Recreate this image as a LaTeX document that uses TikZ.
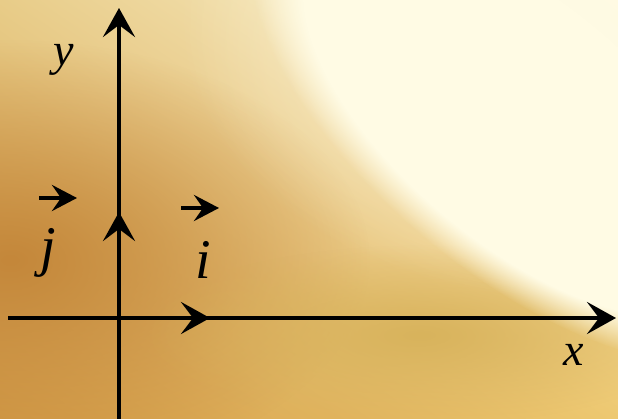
\documentclass[tikz,border=0pt]{standalone}
\usepackage{fontspec}
\setmainfont{Liberation Serif}
\usetikzlibrary{arrows.meta,fadings,shadings}
\tikzfading[name=glow, inner color=transparent!0, outer color=transparent!100]
\definecolor{ulc}{HTML}{E8CC88}
\definecolor{urc}{HTML}{FFF8DC}
\definecolor{llc}{HTML}{D39C48}
\definecolor{lrc}{HTML}{EDC870}
\definecolor{glowc}{HTML}{FFFBE4}
\definecolor{tanc}{HTML}{C4873A}
\definecolor{goldc}{HTML}{D8B35C}
\begin{document}
\begin{tikzpicture}[x=1pt,y=-1pt,
  axis/.style={line width=4pt, -{Stealth[length=29pt,width=32pt,inset=12pt]}},
  vec/.style={line width=4pt, -{Stealth[length=25pt,width=26pt,inset=9pt]}},
  big/.style={font=\fontsize{46}{46}\selectfont\itshape, inner sep=0pt, anchor=base},
  bigger/.style={font=\fontsize{56}{56}\selectfont\itshape, inner sep=0pt, anchor=base}]
\useasboundingbox (0,0) rectangle (618,419);
\shade[upper left=ulc, upper right=urc, lower left=llc, lower right=lrc] (0,0) rectangle (618,419);
\begin{scope}
\clip (0,0) rectangle (618,419);
\fill[tanc, path fading=glow] (10,260) ellipse [x radius=360pt, y radius=220pt];
\fill[goldc, path fading=glow] (420,335) ellipse [x radius=280pt, y radius=90pt];
\fill[glowc, path fading=glow] (580,20) ellipse [x radius=400pt, y radius=280pt];
\begin{scope}[transform canvas={rotate around={-40:(520,122)}}]
\fill[glowc, path fading=circle with fuzzy edge 20 percent] (520,122) ellipse [x radius=330pt, y radius=150pt];
\end{scope}
\end{scope}
% axes
\coordinate (xs) at (8,318);
\coordinate (xe) at (616,318);
\coordinate (ys) at (119,419);
\coordinate (ye) at (119,8);
\coordinate (O) at (119,318);
\coordinate (itip) at (210,318);
\coordinate (jtip) at (119,212);
\draw[axis] (xs) -- (xe);
\draw[axis] (ys) -- (ye);
\draw[axis] (O) -- (itip);
\draw[axis] (O) -- (jtip);
% labels
\node[big] (ylab) at (64,66) {y};
\node[big] (xlab) at (574,365) {x};
\node[bigger] (jlab) at (48,266) {j};
\node[bigger] (ilab) at (203,279) {i};
\coordinate (ja) at (39,198);
\coordinate (jb) at (77,198);
\coordinate (ia) at (181,208);
\coordinate (ib) at (219,208);
\draw[vec] (ja) -- (jb);
\draw[vec] (ia) -- (ib);
\end{tikzpicture}
\end{document}
